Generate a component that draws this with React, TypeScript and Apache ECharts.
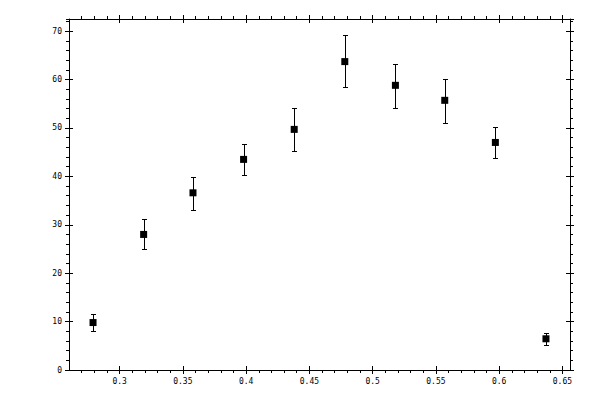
import { useEffect, useRef } from 'react';
import * as echarts from 'echarts';

// measured points (x position, value, error bar low/high)
const xValues = [0.279, 0.319, 0.358, 0.398, 0.438, 0.478, 0.518, 0.557, 0.597, 0.637];
const yValues = [9.8, 28.0, 36.6, 43.5, 49.7, 63.7, 58.8, 55.7, 47.0, 6.45];
const yLow = [8.0, 24.9, 33.1, 40.2, 45.3, 58.4, 54.2, 51.1, 43.7, 5.2];
const yHigh = [11.5, 31.1, 39.9, 46.7, 54.2, 69.1, 63.3, 60.2, 50.1, 7.7];

// tick positions on the x axis
const xMajorTicks = [0.3, 0.35, 0.4, 0.45, 0.5, 0.55, 0.6, 0.65];
const xMinorTicks = [
  0.27, 0.28, 0.29, 0.31, 0.32, 0.33, 0.34, 0.36, 0.37, 0.38, 0.39,
  0.41, 0.42, 0.43, 0.44, 0.46, 0.47, 0.48, 0.49, 0.51, 0.52, 0.53, 0.54,
  0.56, 0.57, 0.58, 0.59, 0.61, 0.62, 0.63, 0.64,
];

const X_MIN = 0.26;
const X_MAX = 0.656;
const Y_MIN = 0;
const Y_MAX = 72.5;

const FONT = '"DejaVu Sans Mono", monospace';
const black = '#000000';

export default function App() {
  const chartRef = useRef<HTMLDivElement>(null);

  useEffect(() => {
    if (!chartRef.current) return;
    const chart = echarts.init(chartRef.current, null, { renderer: 'svg' });

    // every axis stays on its own edge of the grid (no onZero)
    const hidden = {
      axisLine: { show: false, onZero: false },
      axisTick: { show: false },
      axisLabel: { show: false },
      splitLine: { show: false },
    };
    const edgeLine = { show: true, onZero: false, lineStyle: { color: black, width: 1 } };

    const tick = (inside: boolean, length: number, customValues?: number[]) => ({
      show: true,
      inside,
      length,
      customValues,
      lineStyle: { color: black, width: 1 },
    });

    const label = {
      show: true,
      color: black,
      fontFamily: FONT,
      fontSize: 8,
      margin: 7,
    };

    // bottom / top: major ticks crossing the line, minor ticks outside
    const xAxes: any[] = [];
    (['bottom', 'top'] as const).forEach((pos) => {
      const isMain = pos === 'bottom';
      xAxes.push({
        ...hidden,
        type: 'value',
        position: pos,
        min: X_MIN,
        max: X_MAX,
        axisLine: edgeLine,
        axisTick: tick(false, 4, xMajorTicks),
        axisLabel: isMain
          ? { ...label, customValues: xMajorTicks }
          : { show: false },
      });
      xAxes.push({
        ...hidden,
        type: 'value',
        position: pos,
        min: X_MIN,
        max: X_MAX,
        axisTick: tick(true, 4, xMajorTicks),
      });
      xAxes.push({
        ...hidden,
        type: 'value',
        position: pos,
        min: X_MIN,
        max: X_MAX,
        axisTick: tick(false, 3, xMinorTicks),
      });
    });

    const yAxes: any[] = [];
    (['left', 'right'] as const).forEach((pos) => {
      const isMain = pos === 'left';
      yAxes.push({
        ...hidden,
        type: 'value',
        position: pos,
        min: Y_MIN,
        max: Y_MAX,
        interval: 10,
        axisLine: edgeLine,
        axisTick: tick(false, 4),
        axisLabel: isMain
          ? { ...label, showMaxLabel: false }
          : { show: false, showMaxLabel: false },
      });
      yAxes.push({
        ...hidden,
        type: 'value',
        position: pos,
        min: Y_MIN,
        max: Y_MAX,
        interval: 10,
        axisTick: tick(true, 4),
        axisLabel: { show: false, showMaxLabel: false },
      });
      yAxes.push({
        ...hidden,
        type: 'value',
        position: pos,
        min: Y_MIN,
        max: Y_MAX,
        interval: 2,
        axisTick: tick(false, 3),
        axisLabel: { show: false, showMaxLabel: false },
      });
    });

    const points = xValues.map((x, i) => [x, yValues[i]]);
    const bars = xValues.map((x, i) => [x, yLow[i], yHigh[i]]);

    const option: any = {
      animation: false,
      backgroundColor: '#ffffff',
      grid: {
        left: 69,
        right: 30,
        top: 19,
        bottom: 30,
        containLabel: false,
        outerBoundsMode: 'none',
      },
      xAxis: xAxes,
      yAxis: yAxes,
      series: [
        {
          type: 'custom',
          xAxisIndex: 0,
          yAxisIndex: 0,
          data: bars,
          encode: { x: 0, y: [1, 2] },
          renderItem: (_params: any, api: any) => {
            const x = api.value(0);
            const lo = api.coord([x, api.value(1)]);
            const hi = api.coord([x, api.value(2)]);
            const cx = Math.round(lo[0]) + 0.5;
            const yLo = Math.round(lo[1]) + 0.5;
            const yHi = Math.round(hi[1]) + 0.5;
            const style = { stroke: black, lineWidth: 1 };
            return {
              type: 'group',
              children: [
                { type: 'line', shape: { x1: cx, y1: yLo, x2: cx, y2: yHi }, style },
                { type: 'line', shape: { x1: cx - 2.5, y1: yLo, x2: cx + 2.5, y2: yLo }, style },
                { type: 'line', shape: { x1: cx - 2.5, y1: yHi, x2: cx + 2.5, y2: yHi }, style },
              ],
            };
          },
          z: 2,
        },
        {
          type: 'scatter',
          xAxisIndex: 0,
          yAxisIndex: 0,
          data: points,
          symbol: 'rect',
          symbolSize: 7,
          itemStyle: { color: black, opacity: 1 },
          emphasis: { disabled: true },
          z: 3,
        },
      ],
    };

    chart.setOption(option);

    return () => {
      chart.dispose();
    };
  }, []);

  return (
    <div
      ref={chartRef}
      style={{ position: 'absolute', left: 0, top: 0, width: 600, height: 400 }}
    />
  );
}
